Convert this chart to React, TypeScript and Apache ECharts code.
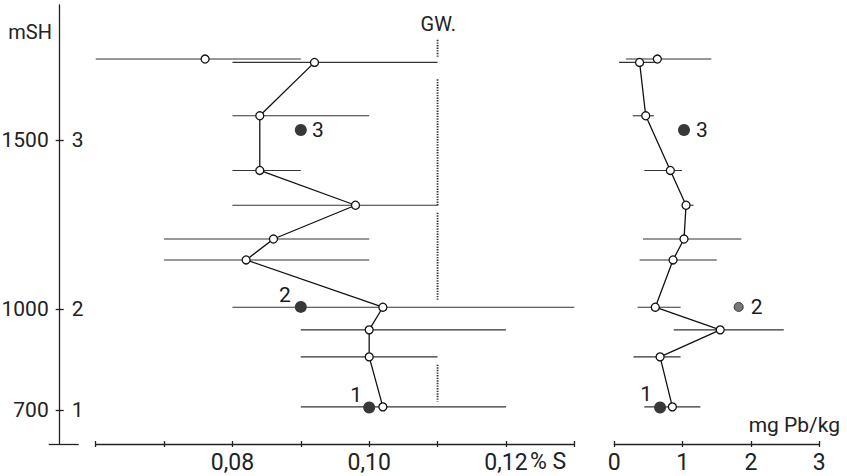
import React, { useEffect, useRef } from "react";
import * as echarts from "echarts";

// ---- data ----
// connected profile (sampling depths, m above sea level)
const depthsM = [1730, 1572, 1410, 1307, 1207, 1145, 1005, 938, 858, 710];
// sulphur content, % S (mean, min, max)
const sulfurPct = [0.092, 0.084, 0.084, 0.098, 0.086, 0.082, 0.102, 0.1, 0.1, 0.102];
const sulfurLow = [0.08, 0.08, 0.08, 0.08, 0.07, 0.07, 0.08, 0.09, 0.09, 0.09];
const sulfurHigh = [0.11, 0.1, 0.09, 0.11, 0.1, 0.1, 0.13, 0.12, 0.11, 0.12];
// lead content, mg Pb/kg (mean, min, max)
const leadMgKg = [0.37, 0.46, 0.82, 1.05, 1.02, 0.86, 0.6, 1.55, 0.67, 0.85];
const leadLow = [0.07, 0.27, 0.44, 0.99, 0.42, 0.37, 0.34, 0.87, 0.28, 0.44];
const leadHigh = [0.67, 0.58, 0.99, 1.16, 1.86, 1.5, 0.97, 2.48, 0.97, 1.26];
// isolated top sample
const isolatedDepth = [1740];
const isolatedSulfur = [0.076];
const isolatedSulfurLow = [0.06];
const isolatedSulfurHigh = [0.09];
const isolatedLead = [0.63];
const isolatedLeadLow = [0.17];
const isolatedLeadHigh = [1.42];
// numbered samples (filled dots)
const sampleNames = ["1", "2", "3"];
const sampleDepths = [708, 1006, 1530];
const sampleSulfur = [0.1, 0.09, 0.09];
const sampleLead = [0.67, 1.82, 1.02];
// groundwater line (GW.) at 0.11 % S, drawn in pieces [fromDepth, toDepth]
const gwSulfur = 0.11;
const gwPieces = [
  [1797, 1745],
  [1680, 1306],
  [1285, 1027],
  [835, 726],
];
// axis ticks and labels
const depthTickValues = [700, 1000, 1500];
const depthTickLabels = ["700", "1000", "1500"];
const depthSampleLabels = ["1", "2", "3"];
const sulfurTickValues = [0.08, 0.1, 0.12];
const sulfurTickLabels = ["0,08", "0,10", "0,12"];
const leadTickValues = [0, 1, 2, 3];
const leadTickLabels = ["0", "1", "2", "3"];

const FONT = 'Roboto, "Liberation Sans", sans-serif';
const INK = "#222";

export default function App() {
  const ref = useRef<HTMLDivElement>(null);

  useEffect(() => {
    if (!ref.current) return;
    const chart = echarts.init(ref.current, undefined, { renderer: "svg" });

    const errorBarSeries = (rows: number[][], xAxisIndex: number, yAxisIndex: number) => ({
      type: "custom",
      xAxisIndex,
      yAxisIndex,
      data: rows,
      encode: { x: [0, 1], y: 2 },
      silent: true,
      z: 1,
      renderItem: (params: any, api: any) => {
        const y = api.value(2);
        const p1 = api.coord([api.value(0), y]);
        const p2 = api.coord([api.value(1), y]);
        return {
          type: "line",
          shape: { x1: p1[0], y1: p1[1], x2: p2[0], y2: p2[1] },
          style: { stroke: "#333", lineWidth: 1.1 },
        };
      },
    });

    const openSymbol = {
      symbol: "circle",
      symbolSize: 8,
      itemStyle: { color: "#fff", borderColor: "#111", borderWidth: 1.3, opacity: 1 },
    };

    const labelOffsets = {
      left: [
        [-13, -13],
        [-16, -12],
        [17, 0],
      ],
      right: [
        [-14, -14],
        [18, 0],
        [18, 0],
      ],
    };

    const sampleSeries = (xs: number[], xAxisIndex: number, yAxisIndex: number, side: "left" | "right") => ({
      type: "scatter",
      xAxisIndex,
      yAxisIndex,
      z: 4,
      data: sampleNames.map((n, i) => ({
        name: n,
        value: [xs[i], sampleDepths[i]],
        symbolSize: side === "right" && i === 1 ? 9 : 12,
        itemStyle:
          side === "right" && i === 1
            ? { color: "#777", borderColor: "#333", borderWidth: 1, opacity: 1 }
            : { color: "#383838", opacity: 1 },
        label: {
          show: true,
          position: "inside",
          offset: labelOffsets[side][i],
          formatter: "{b}",
          color: "#1a1a1a",
          textBorderWidth: 0,
          fontSize: 21,
          fontFamily: FONT,
        },
      })),
    });

    const yCommon = {
      type: "value",
      min: 600,
      max: 1900,
      splitLine: { show: false },
      position: "left",
      offset: 36,
      gridIndex: 0,
    };
    const axisInk = { color: INK, width: 1.3 };

    const xCommon = { type: "value", position: "bottom", splitLine: { show: false } };

    const option: any = {
      animation: false,
      backgroundColor: "#fff",
      grid: [
        { left: 95.7, top: 5, width: 478.6, height: 439, containLabel: false, outerBoundsMode: "none" },
        { left: 614.3, top: 5, width: 205, height: 439, containLabel: false, outerBoundsMode: "none" },
      ],
      xAxis: [
        {
          ...xCommon,
          gridIndex: 0,
          min: 0.06,
          max: 0.13,
          interval: 0.01,
          axisLine: { show: true, lineStyle: axisInk },
          axisTick: { show: true, length: 3, lineStyle: axisInk },
          axisLabel: {
            show: true,
            customValues: sulfurTickValues,
            formatter: (v: number) => {
              const i = sulfurTickValues.findIndex((t) => Math.abs(t - v) < 1e-6);
              return i >= 0 ? sulfurTickLabels[i] : "";
            },
            margin: 7,
            color: INK,
            fontSize: 23,
            fontFamily: FONT,
          },
        },
        {
          ...xCommon,
          gridIndex: 0,
          min: 0.06,
          max: 0.13,
          interval: 0.01,
          axisLine: { show: false },
          axisTick: { show: true, inside: true, length: 3, lineStyle: axisInk },
          axisLabel: { show: false },
        },
        {
          ...xCommon,
          gridIndex: 1,
          min: 0,
          max: 3,
          interval: 1,
          axisLine: { show: true, lineStyle: axisInk },
          axisTick: { show: true, length: 3, lineStyle: axisInk },
          axisLabel: {
            show: true,
            customValues: leadTickValues,
            formatter: (v: number) => {
              const i = leadTickValues.findIndex((t) => Math.abs(t - v) < 1e-6);
              return i >= 0 ? leadTickLabels[i] : "";
            },
            margin: 7,
            color: INK,
            fontSize: 23,
            fontFamily: FONT,
          },
        },
        {
          ...xCommon,
          gridIndex: 1,
          min: 0,
          max: 3,
          interval: 1,
          axisLine: { show: false },
          axisTick: { show: true, inside: true, length: 3, lineStyle: axisInk },
          axisLabel: { show: false },
        },
      ],
      yAxis: [
        {
          ...yCommon,
          axisLine: { show: true, lineStyle: axisInk },
          axisTick: { show: true, length: 4, customValues: depthTickValues, lineStyle: axisInk },
          axisLabel: {
            show: true,
            customValues: depthTickValues,
            formatter: (v: number) => {
              const i = depthTickValues.indexOf(Math.round(v));
              return i >= 0 ? depthTickLabels[i] : "";
            },
            margin: 11,
            color: INK,
            fontSize: 21,
            fontFamily: FONT,
          },
        },
        {
          ...yCommon,
          axisLine: { show: false },
          axisTick: { show: true, inside: true, length: 4, customValues: depthTickValues, lineStyle: axisInk },
          axisLabel: {
            show: true,
            inside: true,
            customValues: depthTickValues,
            formatter: (v: number) => {
              const i = depthTickValues.indexOf(Math.round(v));
              return i >= 0 ? depthSampleLabels[i] : "";
            },
            margin: 12,
            color: INK,
            fontSize: 21,
            fontFamily: FONT,
          },
        },
        {
          ...yCommon,
          axisLine: { show: false },
          axisTick: { show: true, length: 11, customValues: [600], lineStyle: axisInk },
          axisLabel: { show: false },
        },
        {
          ...yCommon,
          axisLine: { show: false },
          axisTick: { show: true, inside: true, length: 19, customValues: [600], lineStyle: axisInk },
          axisLabel: { show: false },
        },
        {
          type: "value",
          gridIndex: 1,
          min: 600,
          max: 1900,
          show: false,
          splitLine: { show: false },
        },
      ],
      graphic: [
        {
          type: "text",
          x: 52,
          y: 32,
          style: { text: "mSH", fill: INK, fontSize: 20, fontFamily: FONT, align: "right", verticalAlign: "middle" },
        },
        {
          type: "text",
          x: 530,
          y: 461,
          style: { text: "% S", fill: INK, fontSize: 23, fontFamily: FONT, align: "left", verticalAlign: "middle" },
        },
        {
          type: "text",
          x: 840,
          y: 425,
          style: { text: "mg Pb/kg", fill: INK, fontSize: 21, fontFamily: FONT, align: "right", verticalAlign: "middle" },
        },
      ],
      series: [
        // ---- left panel: % S ----
        errorBarSeries(
          depthsM
            .map((d, i) => [sulfurLow[i], sulfurHigh[i], d])
            .concat(isolatedDepth.map((d, i) => [isolatedSulfurLow[i], isolatedSulfurHigh[i], d])),
          0,
          0
        ),
        {
          type: "custom",
          xAxisIndex: 0,
          yAxisIndex: 0,
          silent: true,
          z: 0,
          data: gwPieces.map((p) => [gwSulfur, p[0], p[1]]),
          encode: { x: 0, y: [1, 2] },
          renderItem: (params: any, api: any) => {
            const x = api.value(0);
            const p1 = api.coord([x, api.value(1)]);
            const p2 = api.coord([x, api.value(2)]);
            const children: any[] = [
              {
                type: "line",
                shape: { x1: p1[0], y1: p1[1], x2: p2[0], y2: p2[1] },
                style: { stroke: "#333", lineWidth: 1.8, lineDash: [1.4, 1.2] },
              },
            ];
            if (params.dataIndex === 0) {
              children.push({
                type: "text",
                x: p1[0] - 17,
                y: p1[1] - 6,
                style: {
                  text: "GW.",
                  fill: INK,
                  fontSize: 20,
                  fontFamily: FONT,
                  align: "left",
                  verticalAlign: "bottom",
                },
              });
            }
            return { type: "group", children };
          },
        },
        {
          type: "line",
          xAxisIndex: 0,
          yAxisIndex: 0,
          z: 3,
          data: depthsM.map((d, i) => [sulfurPct[i], d]),
          showSymbol: true,
          ...openSymbol,
          lineStyle: { color: "#111", width: 1.3 },
        },
        {
          type: "scatter",
          xAxisIndex: 0,
          yAxisIndex: 0,
          z: 3,
          data: isolatedDepth.map((d, i) => [isolatedSulfur[i], d]),
          ...openSymbol,
        },
        sampleSeries(sampleSulfur, 0, 0, "left"),
        // ---- right panel: mg Pb/kg ----
        errorBarSeries(
          depthsM
            .map((d, i) => [leadLow[i], leadHigh[i], d])
            .concat(isolatedDepth.map((d, i) => [isolatedLeadLow[i], isolatedLeadHigh[i], d])),
          2,
          4
        ),
        {
          type: "line",
          xAxisIndex: 2,
          yAxisIndex: 4,
          z: 3,
          data: depthsM.map((d, i) => [leadMgKg[i], d]),
          showSymbol: true,
          ...openSymbol,
          lineStyle: { color: "#111", width: 1.3 },
        },
        {
          type: "scatter",
          xAxisIndex: 2,
          yAxisIndex: 4,
          z: 3,
          data: isolatedDepth.map((d, i) => [isolatedLead[i], d]),
          ...openSymbol,
        },
        sampleSeries(sampleLead, 2, 4, "right"),
      ],
    };

    chart.setOption(option);
    return () => chart.dispose();
  }, []);

  return (
    <div
      ref={ref}
      style={{ position: "fixed", left: 0, top: 0, width: 847, height: 476, background: "#fff" }}
    />
  );
}
